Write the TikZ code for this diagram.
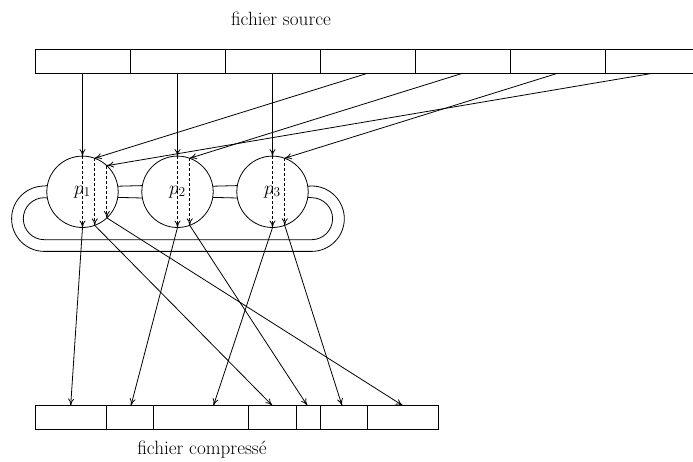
\documentclass[tikz,border=0pt]{standalone}
\usepackage{fix-cm}
\usetikzlibrary{arrows.meta,calc}

\begin{document}
\begin{tikzpicture}[x=1pt,y=-1pt,line width=0.8pt,
  >={To[length=7pt,width=6pt]},
  every node/.style={font=\fontsize{19.2}{23}\selectfont},
  cell/.style={draw,rectangle,minimum height=24pt,inner sep=0pt,outer sep=0pt,anchor=north west},
  proc/.style={draw,circle,minimum size=71.4pt,inner sep=0pt,outer sep=0pt},
  flow/.style={->},
  inner/.style={->,dash pattern=on 3pt off 2pt}]
\useasboundingbox (0,0) rectangle (693,462);
\clip (0,0) rectangle (693,462);

% source file: seven equal blocks
\foreach \i in {1,...,7}
  \node[cell,minimum width=95pt] (s\i) at ({35+95*(\i-1)},49.3) {};
\node[anchor=base] (src) at (281,26) {fichier source};

% compressed file: blocks of unequal length
\node[cell,minimum width=71.25pt] (c1) at (35,405.5) {};
\node[cell,minimum width=47.5pt]  (c2) at (106.25,405.5) {};
\node[cell,minimum width=95pt]    (c3) at (153.75,405.5) {};
\node[cell,minimum width=47.5pt]  (c4) at (248.75,405.5) {};
\node[cell,minimum width=23.75pt] (c5) at (296.25,405.5) {};
\node[cell,minimum width=47.5pt]  (c6) at (320,405.5) {};
\node[cell,minimum width=71.25pt] (c7) at (367.5,405.5) {};
\node[anchor=base] (dst) at (202,454.3) {fichier compress\'e};

% arrival points of the compressed blocks
\coordinate (t1) at (70.7,405.5);
\coordinate (t2) at (131,405.5);
\coordinate (t3) at (213.5,405.5);
\coordinate (t4) at (272.3,405.5);
\coordinate (t5) at (307.3,405.5);
\coordinate (t6) at (342,405.5);
\coordinate (t7) at (402.7,405.5);

% processors
\node[proc] (p1) at (82.5,191.8) {$p_1$};
\node[proc] (p2) at (177.5,191.8) {$p_2$};
\node[proc] (p3) at (272.5,191.8) {$p_3$};

% ring linking the processors
\draw (p1.9.51) -- (p2.170.49);
\draw (p1.-9.51) -- (p2.-170.49);
\draw (p2.9.51) -- (p3.170.49);
\draw (p2.-9.51) -- (p3.-170.49);
\draw (p3.9.51) -- (311.6,186.0)
  arc[start angle=90,end angle=-90,radius=32.7pt] -- (44.3,251.4)
  arc[start angle=-90,end angle=-270,radius=32.7pt] -- (p1.170.49);
\draw (p3.-9.51) -- (311.6,197.7)
  arc[start angle=90,end angle=-90,radius=21pt] -- (44.3,239.7)
  arc[start angle=-90,end angle=-270,radius=21pt] -- (p1.-170.49);

% blocks dealt round-robin to the processors
\draw[flow] (s1.south) -- (p1.north);
\draw[flow] (s2.south) -- (p2.north);
\draw[flow] (s3.south) -- (p3.north);
\draw[flow] (s4.south) -- (p1.70.36);
\draw[flow] (s5.south) -- (p2.70.36);
\draw[flow] (s6.south) -- (p3.70.36);
\draw[flow] (s7.south) -- (p1.47.76);

% work inside each processor
\draw[inner] (p1.north) -- (p1.south);
\draw[inner] (p1.70.36) -- (p1.-70.36);
\draw[inner] (p1.47.76) -- (p1.-47.76);
\draw[inner] (p2.north) -- (p2.south);
\draw[inner] (p2.70.36) -- (p2.-70.36);
\draw[inner] (p3.north) -- (p3.south);
\draw[inner] (p3.70.36) -- (p3.-70.36);

% compressed blocks written in order
\draw[flow] (p1.south) -- (t1);
\draw[flow] (p2.south) -- (t2);
\draw[flow] (p3.south) -- (t3);
\draw[flow] (p1.-70.36) -- (t4);
\draw[flow] (p2.-70.36) -- (t5);
\draw[flow] (p3.-70.36) -- (t6);
\draw[flow] (p1.-47.76) -- (t7);
\end{tikzpicture}
\end{document}
